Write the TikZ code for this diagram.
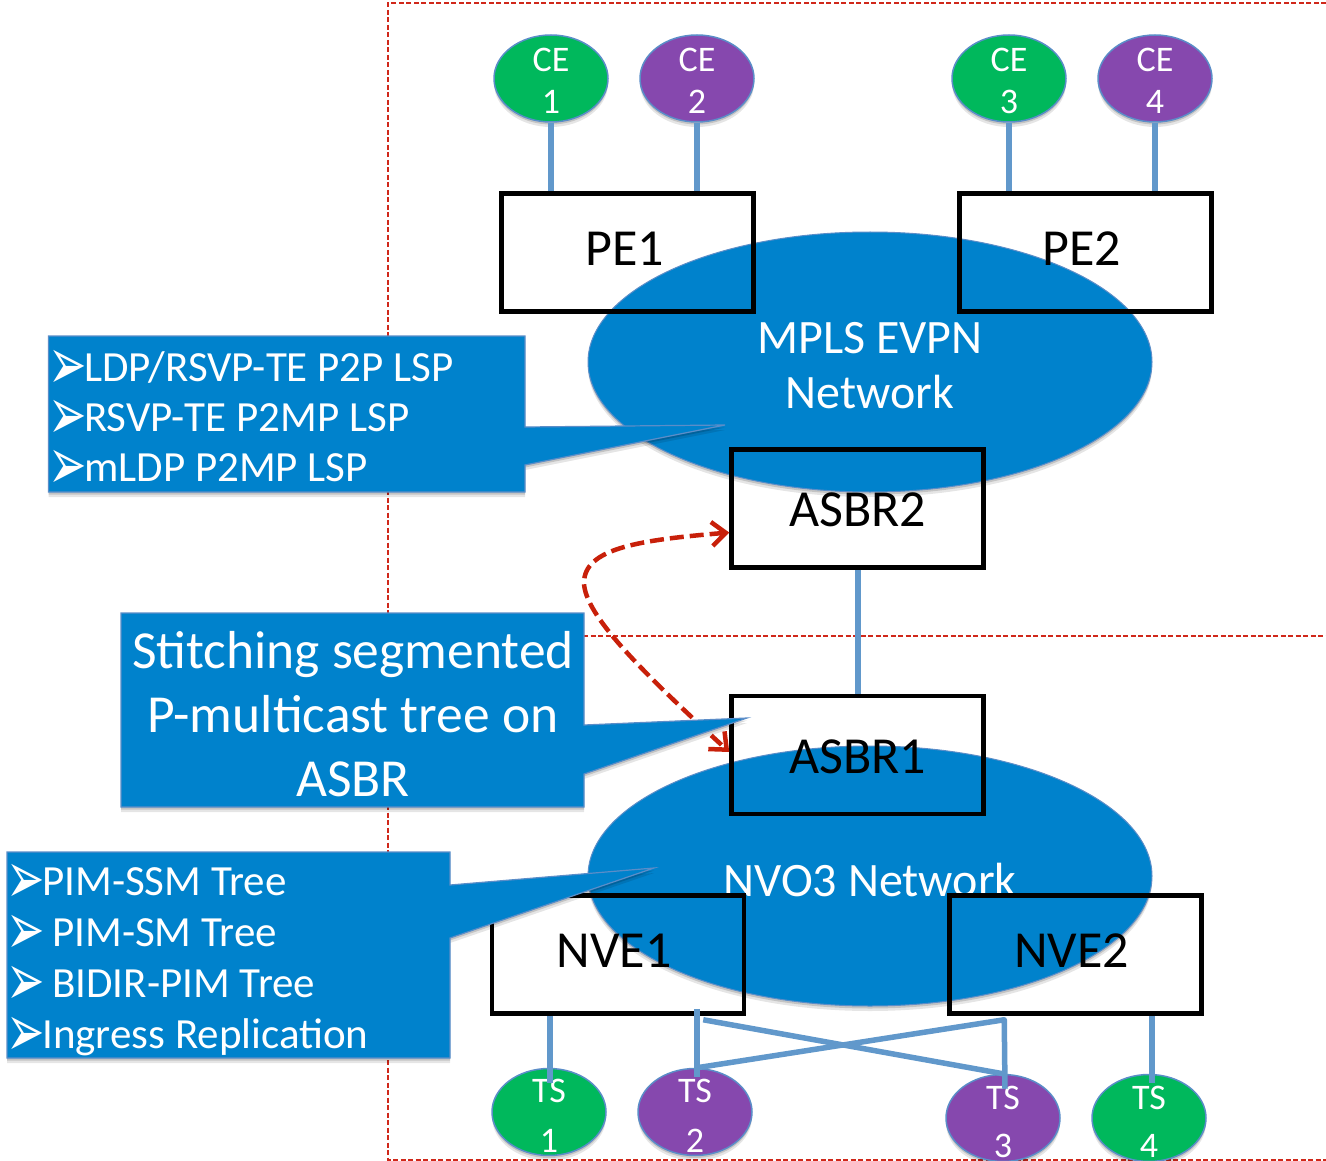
\documentclass[tikz,border=0pt]{standalone}
\usepackage{fontspec}
\setmainfont{Carlito}
\newfontfamily\bulletfont{DejaVu Sans}
\usetikzlibrary{shapes.geometric,shadows,arrows.meta}
\definecolor{netblue}{HTML}{0082CC}
\definecolor{edgeblue}{HTML}{5B8DC8}
\definecolor{linkblue}{HTML}{6198CB}
\definecolor{ceGreen}{HTML}{00B85C}
\definecolor{cePurple}{HTML}{8648AE}
\definecolor{frameRed}{HTML}{D0281A}
\definecolor{arrowRed}{HTML}{C8200A}
\newcommand{\bul}{\makebox[32pt][l]{\smash{\hspace{-4pt}\raisebox{-8pt}{\scalebox{1}[1.6]{\bulletfont\fontsize{46}{46}\selectfont ➢}}}}}
\tikzset{
  softshadow/.style={drop shadow={shadow xshift=0pt,shadow yshift=-5pt,opacity=.1,fill=black},drop shadow={shadow xshift=0pt,shadow yshift=-2.5pt,opacity=.15,fill=black}},
  endnode/.style={ellipse,draw=edgeblue,line width=1.5pt,minimum width=114pt,minimum height=87pt,inner sep=0pt,softshadow},
  cetext/.style={text=white,align=center,font=\fontsize{36}{42}\selectfont},
  tstext/.style={text=white,align=center,font=\fontsize{36}{50}\selectfont},
  tslowtext/.style={text=white,align=center,font=\fontsize{36}{48}\selectfont},
  greenend/.style={endnode,fill=ceGreen},
  purpleend/.style={endnode,fill=cePurple},
  network/.style={ellipse,fill=netblue,draw=edgeblue,line width=1pt,minimum width=564pt,minimum height=260pt,inner sep=0pt,softshadow},
  nettext/.style={text=white,align=center,font=\fontsize{48}{55}\selectfont},
  routerbox/.style={rectangle,draw=black,line width=4.5pt,minimum width=252pt,minimum height=118pt,inner sep=0pt},
  routertext/.style={font=\fontsize{52}{56}\selectfont},
  link/.style={draw=linkblue,line width=6pt},
  crosslink/.style={draw=linkblue,line width=5.5pt,line join=round},
  frame/.style={draw=frameRed,line width=1.3pt,dashed,dash pattern=on 5pt off 2.5pt},
  calloutbg/.style={fill=netblue,draw=edgeblue,line width=1.2pt,softshadow},
  callouttext/.style={text=white,inner sep=0pt,align=left},
}
\begin{document}
\begin{tikzpicture}[x=1pt,y=-1pt]
\useasboundingbox (0,0) rectangle (1326,1161);
% frames
\draw[frame] (1326,3) -- (388,3) -- (388,1160) -- (1326,1160);
\draw[frame] (388,636) -- (1326,636);
% networks
\node[network,label={[nettext,yshift=-4pt]center:MPLS EVPN\\Network}] (mpls) at (870,362) {};
\node[network,label={[nettext,yshift=-4pt]center:NVO3 Network}] (nvo) at (870,876) {};
% boxes
\node[routerbox,label={[routertext,xshift=-3pt,yshift=4pt]center:PE1}] (pe1) at (627.5,252.5) {};
\node[routerbox,label={[routertext,xshift=-4pt,yshift=4pt]center:PE2}] (pe2) at (1085.5,252.5) {};
\node[routerbox,label={[routertext,yshift=-1pt]center:ASBR2}] (asbr2) at (857.5,508.5) {};
\node[routerbox,label={[routertext,yshift=-2pt]center:ASBR1}] (asbr1) at (857.5,755) {};
\node[routerbox,label={[routertext,xshift=-4pt,yshift=4pt]center:NVE1}] (nve1) at (618,954.5) {};
\node[routerbox,label={[routertext,xshift=-4pt,yshift=4pt]center:NVE2}] (nve2) at (1075.5,954.5) {};
% CE and TS
\node[greenend,label={[cetext,yshift=-2pt]center:CE\\1}] (ce1) at (551,78.5) {};
\node[purpleend,label={[cetext,yshift=-2pt]center:CE\\2}] (ce2) at (697,78.5) {};
\node[greenend,label={[cetext,yshift=-2pt]center:CE\\3}] (ce3) at (1009,78.5) {};
\node[purpleend,label={[cetext,yshift=-2pt]center:CE\\4}] (ce4) at (1155,78.5) {};
\node[greenend,label={[tstext,yshift=-4pt]center:TS\\1}] (ts1) at (549,1112) {};
\node[purpleend,label={[tstext,yshift=-4pt]center:TS\\2}] (ts2) at (695,1112) {};
\node[purpleend,label={[tslowtext,yshift=-4pt]center:TS\\3}] (ts3) at (1003,1118) {};
\node[greenend,label={[tslowtext,yshift=-4pt]center:TS\\4}] (ts4) at (1149,1118) {};
% links
\draw[link] (ce1.south) -- (ce1.south |- pe1.north);
\draw[link] (ce2.south) -- (ce2.south |- pe1.north);
\draw[link] (ce3.south) -- (ce3.south |- pe2.north);
\draw[link] (ce4.south) -- (ce4.south |- pe2.north);
\draw[link] (asbr2.south) -- (asbr1.north);
\draw[link] ([xshift=1pt]ts1.center |- nve1.south) -- ([xshift=1pt,yshift=-15pt]ts1.north);
\draw[link] ([xshift=2pt,yshift=7pt]ts2.center |- nve1.south) -- ([xshift=2pt,yshift=-9pt]ts2.north);
\draw[crosslink] ([xshift=-43pt,yshift=-4pt]nve1.south east) -- (ts3.north);
\draw[crosslink] ([xshift=2pt]ts2.north) -- ([xshift=57pt,yshift=-4pt]nve2.south west) -- ([xshift=2pt,yshift=-15pt]ts3.north);
\draw[link] ([xshift=2.5pt]ts4.center |- nve2.south) -- ([xshift=2.5pt,yshift=-9pt]ts4.north);
% red arrow
\draw[arrowRed,line width=4.5pt,dash pattern=on 14pt off 6pt,{Straight Barb[length=14pt,width=24pt,line width=4.5pt]}-{Straight Barb[length=14pt,width=24pt,line width=4.5pt]}]
  ([yshift=-24pt]asbr2.west) .. controls (640,540) and (584,548) .. (584,583)
  .. controls (585,615) and (640,670) .. ([yshift=3pt]asbr1.west);
% callouts
\path[calloutbg] (48.5,336) -- (525,336) -- (525,427) -- (725,425) -- (525,465) -- (525,492) -- (48.5,492) -- cycle;
\node[callouttext,anchor=north west,font=\fontsize{43}{50.2}\selectfont] (call1) at (52,351.5) {\bul LDP/RSVP-TE P2P LSP\\\bul RSVP-TE P2MP LSP\\\bul mLDP P2MP LSP};
\path[calloutbg] (121,613) -- (584,613) -- (584,725) -- (747,718) -- (584,774) -- (584,807) -- (121,807) -- cycle;
\node[text=white,inner sep=0pt,align=center,font=\fontsize{53.5}{64}\selectfont] (call2) at (353,714) {Stitching segmented\\P-multicast tree on\\ASBR};
\path[calloutbg] (7,852) -- (450,852) -- (450,885) -- (654,868) -- (450,938) -- (450,1058) -- (7,1058) -- cycle;
\node[callouttext,anchor=north west,font=\fontsize{43}{50.8}\selectfont] (call3) at (10,867.5) {\bul PIM-SSM Tree\\\bul\hspace{10pt}PIM-SM Tree\\\bul\hspace{10pt}BIDIR-PIM Tree\\\bul Ingress Replication};
\end{tikzpicture}
\end{document}
